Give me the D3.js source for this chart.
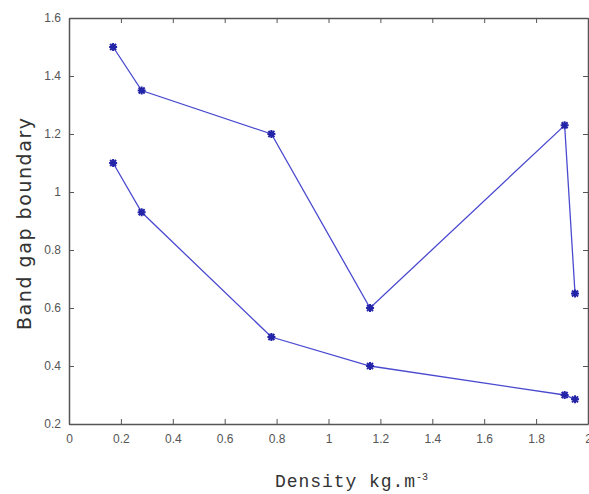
<!DOCTYPE html>
<html>
<head>
<meta charset="utf-8">
<script src="https://cdn.jsdelivr.net/npm/d3@7"></script>
<style>
body{margin:0;background:#fff}
.tick text{fill:#555;font-family:"Liberation Sans",Arial,sans-serif;font-size:12px}
</style>
</head>
<body>
<div id="chart"></div>
<script>
// values
let density=[0.17,0.28,0.78,1.16,1.91,1.95]
let upperBound=[1.5,1.35,1.2,0.6,1.23,0.65]
let lowerBound=[1.1,0.93,0.5,0.4,0.3,0.285]
let xTicks=[0,0.2,0.4,0.6,0.8,1,1.2,1.4,1.6,1.8,2]
let yTicks=[0.2,0.4,0.6,0.8,1,1.2,1.4,1.6]

let width=589,height=494
let padLeft=69,padRight=588,padTop=18,padBottom=424

const svg=d3.select("#chart").append("svg").attr("width",width).attr("height",height)

let x=d3.scaleLinear().domain([0,2]).range([padLeft,padRight])
let y=d3.scaleLinear().domain([0.2,1.6]).range([padBottom,padTop])

//axes with inner ticks, on all four sides like matlab
let fmt=d=>String(+d.toFixed(1))
svg.append("g").attr("transform",`translate(0,${padBottom})`)
    .call(d3.axisBottom(x).tickValues(xTicks).tickFormat(fmt).tickSizeInner(-5).tickSizeOuter(0).tickPadding(10))
svg.append("g").attr("transform",`translate(${padLeft},0)`)
    .call(d3.axisLeft(y).tickValues(yTicks).tickFormat(fmt).tickSizeInner(-5).tickSizeOuter(0).tickPadding(8))
svg.append("g").attr("transform",`translate(0,${padTop})`)
    .call(d3.axisTop(x).tickValues(xTicks).tickFormat("").tickSizeInner(-5).tickSizeOuter(0))
svg.append("g").attr("transform",`translate(${padRight},0)`)
    .call(d3.axisRight(y).tickValues(yTicks).tickFormat("").tickSizeInner(-5).tickSizeOuter(0))
svg.selectAll(".domain").attr("stroke","#555").attr("stroke-width",1.5)
svg.selectAll(".tick line").attr("stroke","#555")

let line=d3.line().x(d=>x(d[0])).y(d=>y(d[1]))
let series=[upperBound,lowerBound]
series.forEach(vals=>{
    let pts=density.map((d,i)=>[d,vals[i]])
    svg.append("path").datum(pts).attr("d",line).attr("fill","none").attr("stroke","#4a4ad0").attr("stroke-width",1.3)
    svg.selectAll(null).data(pts).enter().append("path")
        .attr("transform",d=>`translate(${x(d[0])},${y(d[1])})`)
        .attr("d","M-4,0H4M0,-4V4M-3,-3L3,3M-3,3L3,-3")
        .attr("stroke","#2424a8").attr("stroke-width",2)
})

//axis titles
svg.append("text").attr("transform","translate(31,224) rotate(-90)").attr("text-anchor","middle")
    .attr("font-family","DejaVu Sans,Arial,sans-serif").attr("font-size",19).attr("fill","#333")
    .attr("textLength",212).text("Band gap boundary")
let xt=svg.append("text").attr("x",275).attr("y",487)
    .attr("font-family","Liberation Mono,Courier New,monospace").attr("font-size",18).attr("fill","#333")
xt.append("tspan").attr("textLength",140).text("Density kg.m")
xt.append("tspan").attr("dy",-7).attr("font-size",10).text("-3")
</script>
</body>
</html>
